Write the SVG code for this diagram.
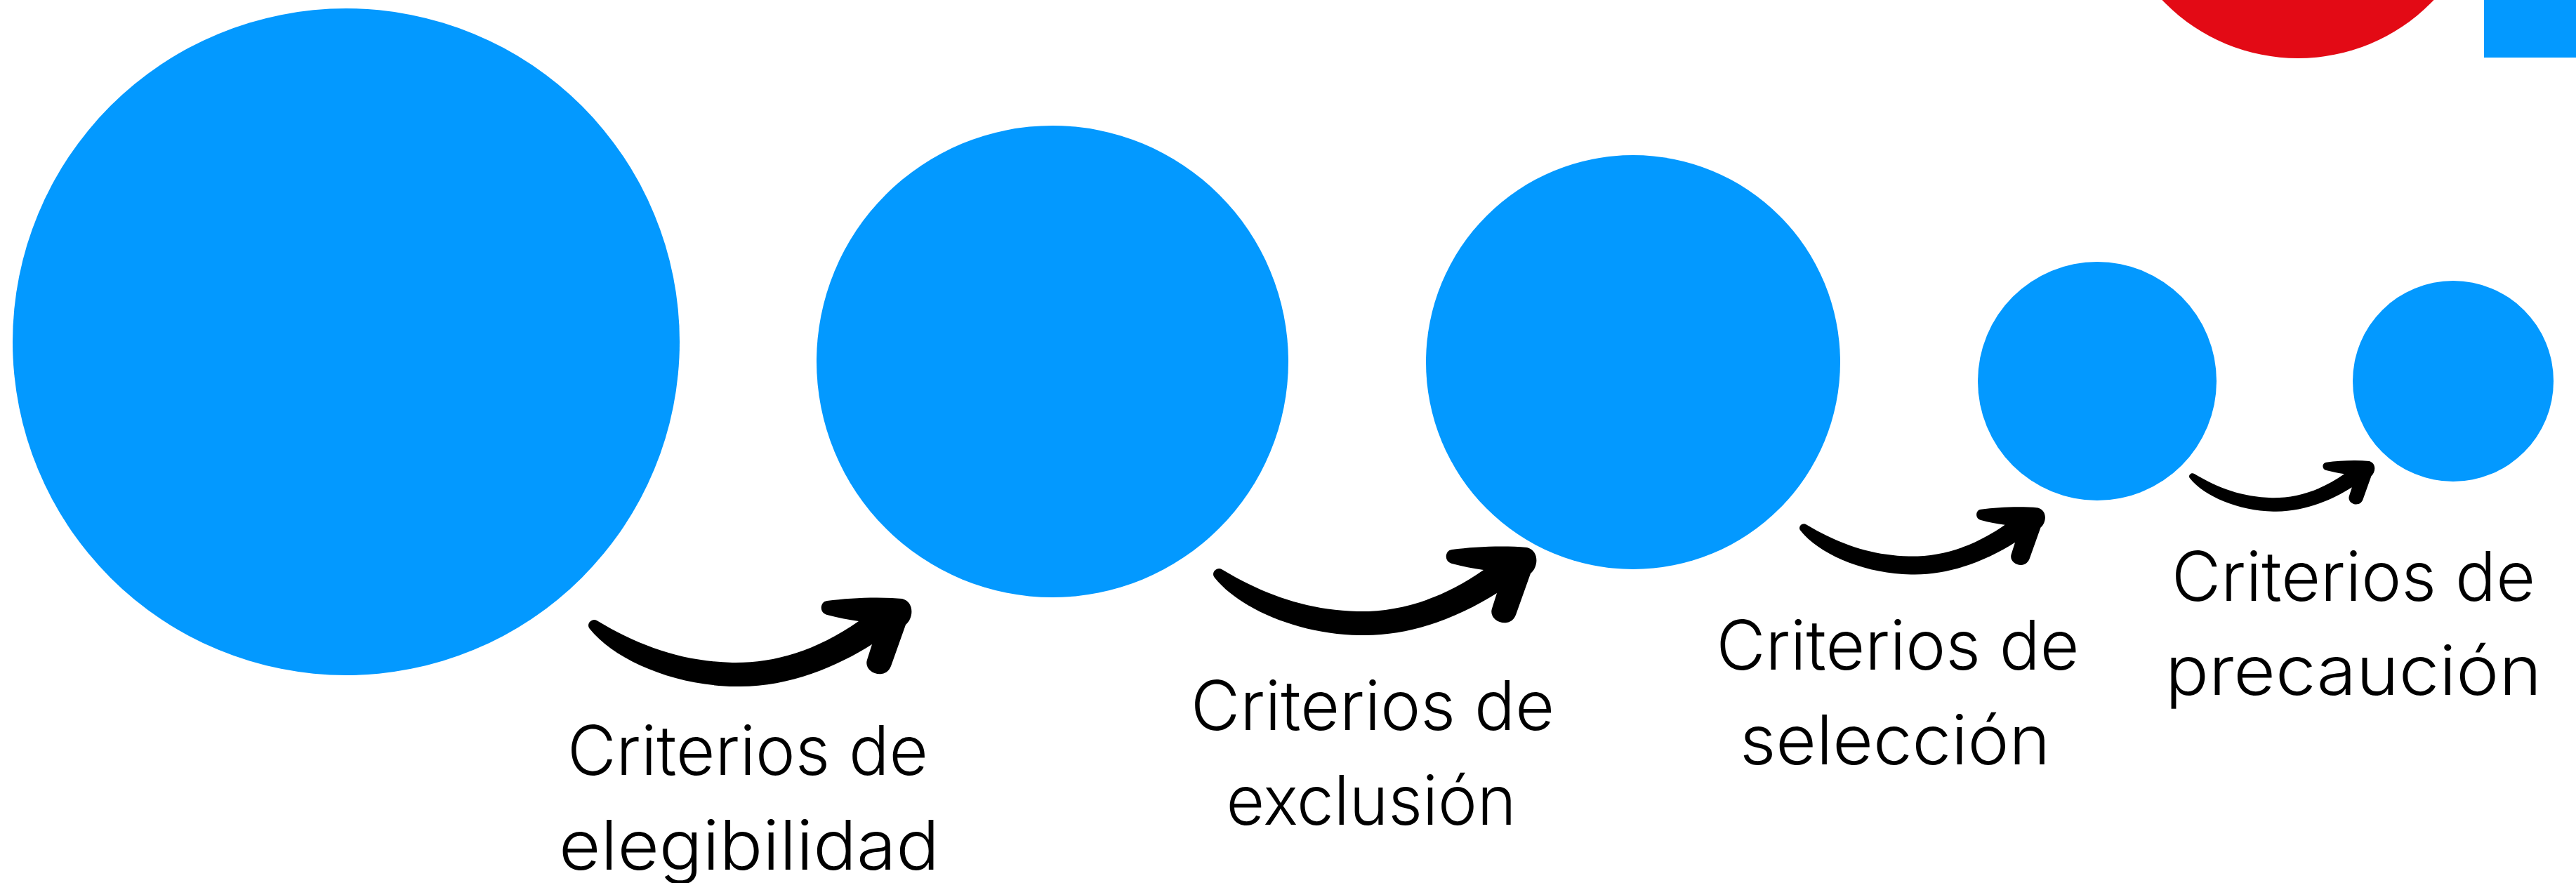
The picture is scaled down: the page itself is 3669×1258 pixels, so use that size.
<svg xmlns="http://www.w3.org/2000/svg" xmlns:xlink="http://www.w3.org/1999/xlink" width="3669" height="1258" viewBox="0 0 3669 1258">
<style>
.node{fill:#0399FF}
.lbl{font-family:Inter,"Liberation Sans",sans-serif;font-size:98px;fill:#000;text-anchor:middle;font-weight:300}
.arrow{fill:#000}
</style>
<defs>
<path id="arr" d="M 840 896 C 875 940 960 977 1047 978 C 1120 980 1190 951 1242 918 L 1235 940 C 1231 952 1244 962 1256 960 C 1263 959 1267 954 1269 949 L 1290 890 C 1301 881 1303 858 1285 853 C 1250 850 1210 852 1178 856 C 1168 857 1166 873 1178 876 C 1193 880 1208 883 1223 885 C 1160 929 1100 945 1043 944 C 970 942 910 920 850 884 C 843 880 834 889 840 896 Z"/>
</defs>
<rect width="3669" height="1258" fill="#fff"/>
<g id="decor">
<circle cx="3273" cy="-184" r="267" fill="#E30A15"/>
<rect x="3538" y="0" width="131" height="82" fill="#0399FF"/>
</g>
<g id="node1"><circle class="node" cx="493" cy="487" r="475"/></g>
<g id="node2"><circle class="node" cx="1499" cy="515" r="336"/></g>
<g id="node3"><circle class="node" cx="2326" cy="516" r="295"/></g>
<g id="node4"><circle class="node" cx="2987" cy="543" r="170"/></g>
<g id="node5"><circle class="node" cx="3494" cy="543" r="143"/></g>
<g id="connectors">
<use xlink:href="#arr" class="arrow"/>
<use xlink:href="#arr" class="arrow" transform="translate(890,-73)"/>
<use xlink:href="#arr" class="arrow" transform="translate(2563,750) scale(0.76) translate(-838,-888)"/>
<use xlink:href="#arr" class="arrow" transform="translate(3118,677) scale(0.574) translate(-838,-888)"/>
</g>
<g id="label1">
<text class="lbl" x="1065" y="1104" textLength="514" lengthAdjust="spacingAndGlyphs">Criterios de</text>
<text class="lbl" x="1067" y="1239" textLength="542" lengthAdjust="spacingAndGlyphs">elegibilidad</text>
</g>
<g id="label2">
<text class="lbl" x="1955" y="1040" textLength="518" lengthAdjust="spacingAndGlyphs">Criterios de</text>
<text class="lbl" x="1953" y="1175" textLength="413" lengthAdjust="spacingAndGlyphs">exclusión</text>
</g>
<g id="label3">
<text class="lbl" x="2703" y="954" textLength="517" lengthAdjust="spacingAndGlyphs">Criterios de</text>
<text class="lbl" x="2699" y="1089" textLength="442" lengthAdjust="spacingAndGlyphs">selección</text>
</g>
<g id="label4">
<text class="lbl" x="3352" y="856" textLength="518" lengthAdjust="spacingAndGlyphs">Criterios de</text>
<text class="lbl" x="3352" y="990" textLength="536" lengthAdjust="spacingAndGlyphs">precaución</text>
</g>
</svg>
